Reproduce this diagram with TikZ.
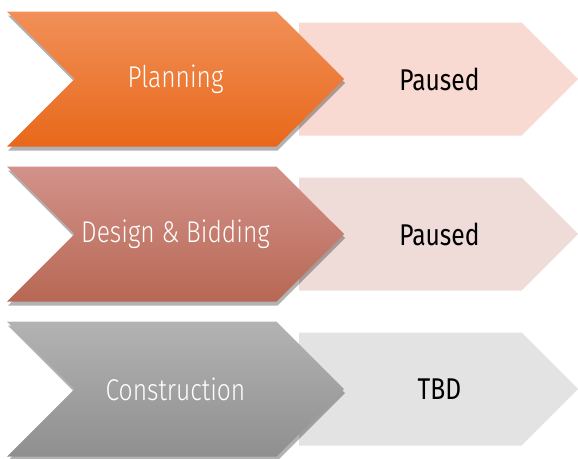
\documentclass[tikz,border=0pt]{standalone}
\usepackage{fontspec}
\setmainfont{Fira Sans Light}[FakeStretch=0.82]
\newfontfamily\statfont{Fira Sans}[FakeStretch=0.82]
\usetikzlibrary{shapes.symbols,shadows}

\definecolor{planTop}{HTML}{F19058}
\definecolor{planBot}{HTML}{E8681A}
\definecolor{planStat}{HTML}{F8DAD2}
\definecolor{desTop}{HTML}{D2928A}
\definecolor{desBot}{HTML}{B86854}
\definecolor{desStat}{HTML}{EFDCD9}
\definecolor{conTop}{HTML}{B3B3B3}
\definecolor{conBot}{HTML}{8F8F8F}
\definecolor{conStat}{HTML}{E3E3E3}

\begin{document}
\begin{tikzpicture}[x=1pt,y=1pt,
    phase/.style={signal,signal to=east,signal from=west,inner sep=0pt,
      minimum width=337pt,minimum height=135pt,text=white,font=\fontsize{30}{34}\selectfont,
      drop shadow={shadow xshift=1pt,shadow yshift=-4pt,opacity=0.3,fill=black}},
    status/.style={signal,signal to=east,inner sep=0pt,anchor=west,
      minimum width=279pt,minimum height=113pt},
    stattext/.style={text=black,font=\statfont\fontsize{30}{34}\selectfont,xshift=29pt}]

  \useasboundingbox (0,0) rectangle (578,-458);

  % status arrows go behind the phases
  \node[status,fill=planStat,label={[stattext]center:Paused}] (planstat) at (299,-79) {};
  \node[status,fill=desStat,label={[stattext]center:Paused}] (desstat) at (299,-234) {};
  \node[status,fill=conStat,label={[stattext]center:TBD}] (constat) at (299,-389) {};

  \node[phase,top color=planTop,bottom color=planBot] (plan) at (175.5,-79) {Planning};
  \node[phase,top color=desTop,bottom color=desBot] (des) at (175.5,-234) {Design \& Bidding};
  \node[phase,top color=conTop,bottom color=conBot] (con) at (175.5,-389) {Construction};

\end{tikzpicture}
\end{document}
